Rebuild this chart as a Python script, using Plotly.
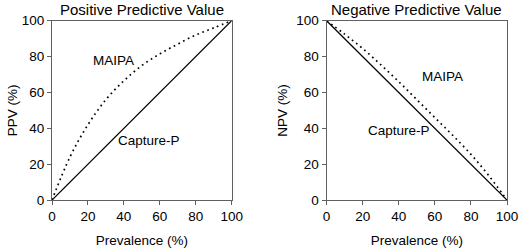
import plotly.graph_objects as go

prevalence = [0, 10, 20, 30, 40, 50, 60, 70, 80, 90, 100]
ppv_maipa = [0, 24, 42, 56, 66.5, 75, 81.5, 87, 92, 96, 100]
ppv_capture = [0, 10, 20, 30, 40, 50, 60, 70, 80, 90, 100]
npv_maipa = [100, 92.5, 84.5, 75.5, 66, 56, 46, 36, 25.5, 13.5, 0]
npv_capture = [100, 90, 80, 70, 60, 50, 40, 30, 20, 10, 0]
tick_vals = [0, 20, 40, 60, 80, 100]

FONT = "Liberation Sans, Arial, sans-serif"
AXC = "#606060"

fig = go.Figure()
dot = dict(color="black", width=1.7, dash="1.7px,3.6px")
solid = dict(color="black", width=1.3)
fig.add_trace(go.Scatter(x=prevalence, y=ppv_maipa, mode="lines", line=dot, line_shape="spline", xaxis="x", yaxis="y"))
fig.add_trace(go.Scatter(x=prevalence, y=ppv_capture, mode="lines", line=solid, xaxis="x", yaxis="y"))
fig.add_trace(go.Scatter(x=prevalence, y=npv_maipa, mode="lines", line=dot, line_shape="spline", xaxis="x2", yaxis="y2"))
fig.add_trace(go.Scatter(x=prevalence, y=npv_capture, mode="lines", line=solid, xaxis="x2", yaxis="y2"))

ax = dict(range=[0, 100], tickvals=tick_vals, showline=True, mirror=True, linecolor=AXC, linewidth=1,
          ticks="outside", ticklen=4, tickcolor=AXC, showgrid=False, zeroline=False, automargin=False,
          tickfont=dict(family=FONT, size=13.5, color="black"),
          title_font=dict(family=FONT, size=13.5, color="black"))

fig.update_layout(
    template="none",
    width=520, height=251, margin=dict(l=0, r=0, t=0, b=0, autoexpand=False),
    paper_bgcolor="white", plot_bgcolor="white", showlegend=False,
    xaxis=dict(ax, domain=[0.1, 0.4456], anchor="y", title=dict(text="Prevalence (%)", standoff=12)),
    yaxis=dict(ax, domain=[0.203, 0.9175], anchor="x", title=dict(text="PPV (%)", standoff=1)),
    xaxis2=dict(ax, domain=[0.628, 0.975], anchor="y2", title=dict(text="Prevalence (%)", standoff=12)),
    yaxis2=dict(ax, domain=[0.203, 0.9175], anchor="x2", title=dict(text="NPV (%)", standoff=5)),
    annotations=[
        dict(text="Positive Predictive Value", x=0.273, y=1.005, xref="paper", yref="paper", xanchor="center", yanchor="top",
             showarrow=False, font=dict(family=FONT, size=15, color="black")),
        dict(text="Negative Predictive Value", x=0.8015, y=1.005, xref="paper", yref="paper", xanchor="center", yanchor="top",
             showarrow=False, font=dict(family=FONT, size=15, color="black")),
        dict(text="MAIPA", x=34, y=78, xref="x", yref="y", showarrow=False, font=dict(family=FONT, size=13.5, color="black")),
        dict(text="Capture-P", x=54, y=33, xref="x", yref="y", showarrow=False, font=dict(family=FONT, size=13.5, color="black")),
        dict(text="MAIPA", x=64, y=69, xref="x2", yref="y2", showarrow=False, font=dict(family=FONT, size=13.5, color="black")),
        dict(text="Capture-P", x=40, y=39, xref="x2", yref="y2", showarrow=False, font=dict(family=FONT, size=13.5, color="black")),
    ],
)

fig.write_html("out.html", config={"displayModeBar": False},
               post_script="document.body.style.margin='0';document.body.style.overflow='hidden';")
